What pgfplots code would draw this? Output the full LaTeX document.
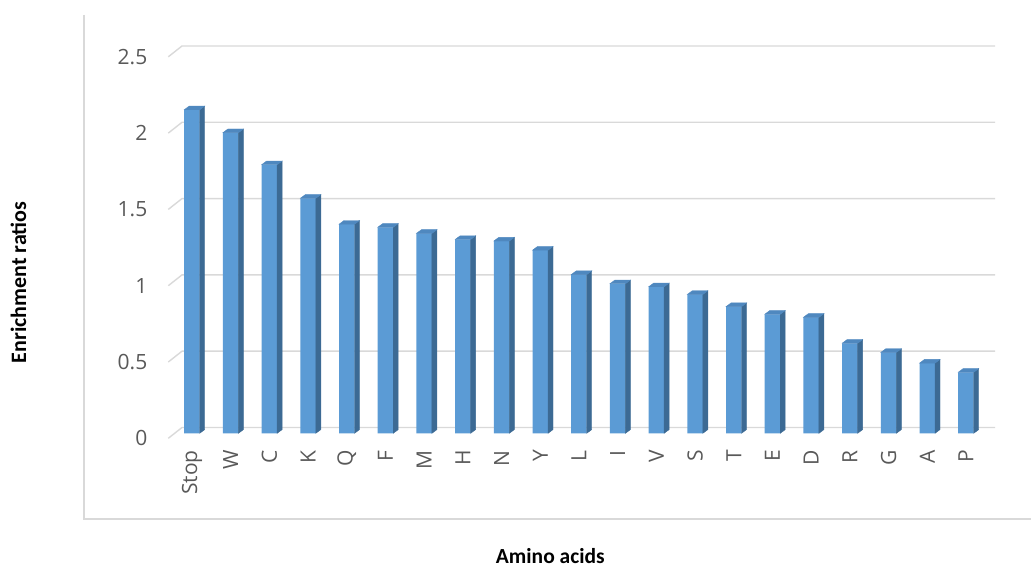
\documentclass[border=0pt]{standalone}
\usepackage{pgfplots}
\usepackage{pgfplotstable}
\pgfplotsset{compat=1.18}
\usepackage{fontspec}
\setmainfont{Carlito}
\newfontfamily\tickfont{Open Sans}
\definecolor{frontc}{HTML}{5B9BD5}
\definecolor{sidec}{HTML}{3C6A94}
\definecolor{topc}{HTML}{4F88BF}
\definecolor{gridc}{HTML}{D9D9D9}
\definecolor{tickc}{HTML}{595959}

\pgfplotstableread{
idx val
0 2.12
1 1.97
2 1.76
3 1.54
4 1.37
5 1.35
6 1.31
7 1.27
8 1.26
9 1.20
10 1.04
11 0.98
12 0.96
13 0.91
14 0.83
15 0.78
16 0.76
17 0.59
18 0.53
19 0.46
20 0.40
}\datatable

\pgfdeclareplotmark{bar3d}{%
  \pgfmathsetlengthmacro\barh{\barval*152.6pt}%
  \fill[sidec] (7.75pt,0pt) -- (12.75pt,3.7pt) -- (12.75pt,3.7pt-\barh) -- (7.75pt,-\barh) -- cycle;
  \fill[topc] (-7.75pt,0pt) -- (7.75pt,0pt) -- (12.75pt,3.7pt) -- (-2.75pt,3.7pt) -- cycle;
}

\begin{document}
\begin{tikzpicture}
\useasboundingbox (0pt,0pt) rectangle (1031pt,567pt);
\draw[gridc, line width=1.5pt] (84pt,552pt) -- (84pt,48pt) -- (1031pt,48pt);
\node[rotate=90, font=\bfseries\fontsize{22}{24}\selectfont] at (18.5pt,284.5pt) {Enrichment ratios};
\node[anchor=base, font=\bfseries\fontsize{21.5}{24}\selectfont] at (550.3pt,3.5pt) {Amino acids};
\begin{axis}[
  at={(168.3pt,133.7pt)}, anchor=south west,
  x=38.7pt, y=152.6pt,
  xmin=-0.612, xmax=20.75, ymin=0, ymax=2.6,
  enlargelimits=false, clip=false,
  axis line style={draw=none},
  tick style={draw=none},
  xtick={0,...,20},
  xticklabels={Stop,W,C,K,Q,F,M,H,N,Y,L,I,V,S,T,E,D,R,G,A,P},
  ytick={0,0.5,1,1.5,2,2.5},
  yticklabels={0,0.5,1,1.5,2,2.5},
  xticklabel style={font=\tickfont\fontsize{21}{24}\selectfont, text=tickc, rotate=90, anchor=east, inner sep=0pt},
  xticklabel shift=16.7pt,
  yticklabel style={font=\tickfont\fontsize{21}{24}\selectfont, text=tickc, anchor=east, inner sep=0pt, xshift=-20.8pt, yshift=-5pt},
]
\draw[gridc, line width=1.4pt] (axis cs:-0.612,-0.0328) -- (axis cs:-0.258,0.038) -- (axis cs:20.75,0.038);
\draw[gridc, line width=1.4pt] (axis cs:-0.612,0.4672) -- (axis cs:-0.258,0.538) -- (axis cs:20.75,0.538);
\draw[gridc, line width=1.4pt] (axis cs:-0.612,0.9672) -- (axis cs:-0.258,1.038) -- (axis cs:20.75,1.038);
\draw[gridc, line width=1.4pt] (axis cs:-0.612,1.4672) -- (axis cs:-0.258,1.538) -- (axis cs:20.75,1.538);
\draw[gridc, line width=1.4pt] (axis cs:-0.612,1.9672) -- (axis cs:-0.258,2.038) -- (axis cs:20.75,2.038);
\draw[gridc, line width=1.4pt] (axis cs:-0.612,2.4672) -- (axis cs:-0.258,2.538) -- (axis cs:20.75,2.538);
\addplot[ybar, bar width=15.5pt, fill=frontc, draw=none] table[x=idx,y=val]{\datatable};
\addplot[only marks, mark=bar3d, visualization depends on={\thisrow{val} \as \barval}] table[x=idx,y=val]{\datatable};
\end{axis}
\end{tikzpicture}
\end{document}
